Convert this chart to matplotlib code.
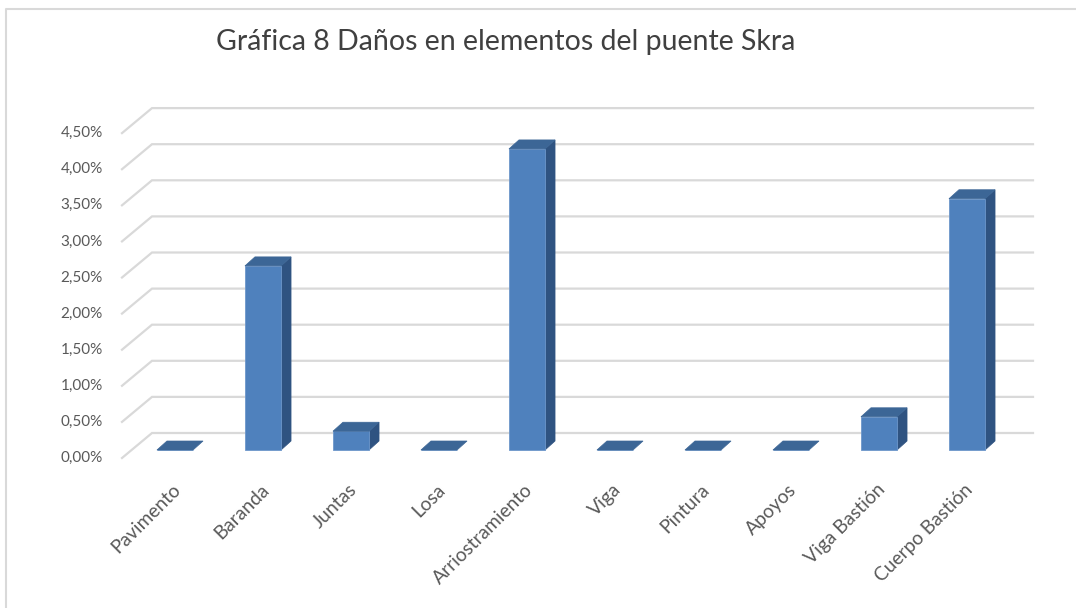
import numpy as np
import matplotlib.pyplot as plt
from matplotlib.patches import Polygon
from matplotlib.lines import Line2D

plt.rcParams['font.family'] = ['Lato', 'DejaVu Sans']

categories = ['Pavimento', 'Baranda', 'Juntas', 'Losa', 'Arriostramiento',
              'Viga', 'Pintura', 'Apoyos', 'Viga Bastión', 'Cuerpo Bastión']
values = [0.0, 2.55, 0.26, 0.0, 4.17, 0.0, 0.0, 0.0, 0.46, 3.48]   # percent
yticks = [0.0, 0.5, 1.0, 1.5, 2.0, 2.5, 3.0, 3.5, 4.0, 4.5]
title = 'Gráfica 8 Daños en elementos del puente Skra'

W, H = 1076, 608
SX, SY = 88.0, 72.2          # pixels per category / per 1 %
X0_PX, Y0_PX = 175.0, 450.0  # first bar centre, bar base (pixels from top)

FRONT = '#4f81bd'
TOP = '#3c6696'
SIDE = '#2f5381'
GRID = '#d9d9d9'
TEXT = '#595959'


def px_dx(px):
    return px / SX


def px_dy(px):
    return px / SY


fig = plt.figure(figsize=(W / 100, H / 100), dpi=100)
xlim = (-0.8, 9.9)
ylim = (-0.2, 5.2)
left = (X0_PX + xlim[0] * SX) / W
bottom = (H - Y0_PX + ylim[0] * SY) / H
ax = fig.add_axes([left, bottom, (xlim[1] - xlim[0]) * SX / W,
                   (ylim[1] - ylim[0]) * SY / H])
ax.set_xlim(*xlim)
ax.set_ylim(*ylim)
ax.axis('off')

# back wall gridlines with the diagonal floor edge on the left
x_front, x_back, x_end = px_dx(122 - X0_PX), px_dx(152 - X0_PX), px_dx(1033 - X0_PX)
for v in yticks:
    yf = v - px_dy(8)
    yb = v + px_dy(17)
    ax.plot([x_front, x_back, x_end], [yf, yb, yb], color=GRID, lw=1.6,
            solid_joinstyle='miter', zorder=1)
    ax.text(px_dx(103 - X0_PX), yf, f'{v:.2f}%'.replace('.', ','),
            ha='right', va='center', fontsize=11, color=TEXT)

# 3d-looking columns: front face from bar(), side and top as polygons
x = np.arange(len(categories))
w = 0.41
ddx, ddy = px_dx(10), px_dy(9)
ax.bar(x, values, width=w, color=FRONT, edgecolor='#6d97cb', linewidth=0.6,
       zorder=3)
for xi, v in zip(x, values):
    xl, xr = xi - w / 2, xi + w / 2
    top = [(xl, v), (xr, v), (xr + ddx, v + ddy), (xl + ddx, v + ddy)]
    ax.add_patch(Polygon(top, closed=True, facecolor=TOP, edgecolor=TOP,
                         lw=0.5, zorder=4))
    if v > 0:
        side = [(xr, 0), (xr + ddx, ddy), (xr + ddx, v + ddy), (xr, v)]
        ax.add_patch(Polygon(side, closed=True, facecolor=SIDE,
                             edgecolor=SIDE, lw=0.5, zorder=2))

# rotated category labels
for xi, name in zip(x, categories):
    ax.text(xi - px_dx(3), -px_dy(31), name, rotation=45,
            rotation_mode='anchor', ha='right', va='top',
            fontsize=13.8, color=TEXT)

fig.text(506 / W, 1 - 42 / H, title, ha='center', va='center',
         fontsize=20.5, color='#404040')

# chart-area frame (top and left edges)
fig.add_artist(Line2D([6 / W, 6 / W, 1.0], [0.0, 1 - 9 / H, 1 - 9 / H],
                      transform=fig.transFigure, color=GRID, lw=1.5))

fig.savefig('out.png', dpi=100, facecolor='white')
